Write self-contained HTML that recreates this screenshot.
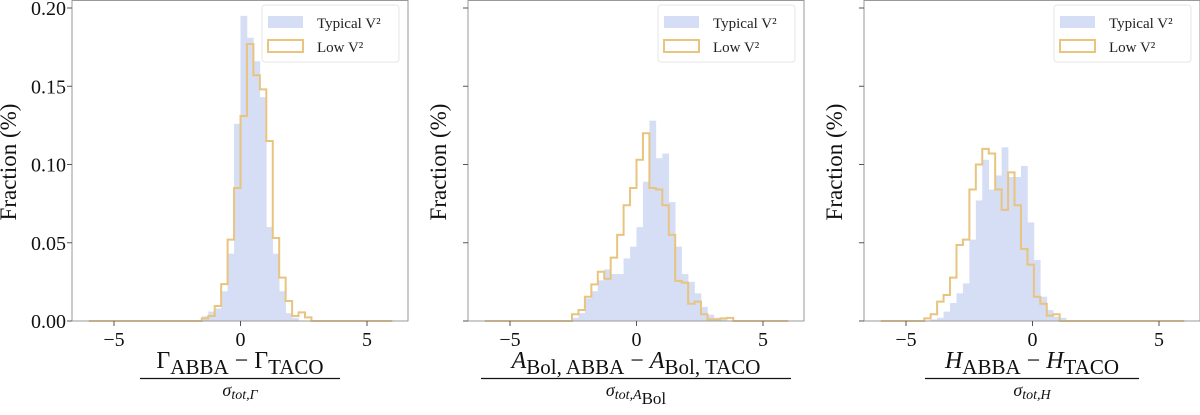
<!DOCTYPE html>
<html><head><meta charset="utf-8"><style>
html,body{margin:0;padding:0;background:#fff;width:1200px;height:415px;overflow:hidden}
svg{display:block;font-family:"Liberation Serif","DejaVu Serif",serif}
</style></head><body>
<svg id="chart" width="1200" height="415" viewBox="0 0 1200 415"></svg>
<script>
// ---- data ----
const binWidth = 0.255;
const p1Start = -1.53;
const p1Low = [0.0017,0.0032,0.0096,0.0236,0.052,0.085,0.131,0.177,0.157,0.148,0.115,0.053,0.0277,0.0128,0.0032,0.0055,0.0023];
const p1Typ = [0.003,0.006,0.008,0.019,0.043,0.126,0.195,0.181,0.166,0.143,0.060,0.043,0.019,0.005,0.002,0,0];
const p2Start = -2.55;
const p2Low = [0.0043,0.007,0.0155,0.0234,0.0315,0.027,0.0405,0.055,0.074,0.085,0.103,0.120,0.085,0.084,0.074,0.055,0.0256,0.0245,0.011,0.0124,0.0043,0.001,0.001,0.0017,0.002];
const p2Typ = [0.002,0.005,0.0145,0.019,0.026,0.033,0.030,0.030,0.040,0.0475,0.060,0.089,0.128,0.104,0.107,0.076,0.0475,0.030,0.025,0.0177,0.009,0.004,0.002,0.001,0];
const p3Start = -4.28;
const p3Low = [0.0017,0.0043,0.0124,0.0166,0.0277,0.0486,0.052,0.084,0.100,0.110,0.107,0.084,0.071,0.095,0.074,0.046,0.036,0.0155,0.011,0.0034,0.0043,0,0];
const p3Typ = [0,0.001,0.002,0.006,0.0115,0.0177,0.024,0.052,0.077,0.103,0.084,0.093,0.111,0.092,0.092,0.099,0.063,0.039,0.0155,0.007,0.0028,0.002,0];
const yTicks = [0.00,0.05,0.10,0.15,0.20];
const yTickLabels = ["0.00","0.05","0.10","0.15","0.20"];
const xTicks = [-5,0,5];
const xTickLabels = ["\u22125","0","5"];

const NS="http://www.w3.org/2000/svg";
const svg=document.getElementById('chart');
function mk(tag,attrs,parent,text){const e=document.createElementNS(NS,tag);for(const k in attrs)e.setAttribute(k,attrs[k]);if(text!==undefined)e.textContent=text;(parent||svg).appendChild(e);return e;}

const lefts=[72,468,864];
const W=336, TOP=0, BOT=321, ZERO_OFF=168.5, XS=25.3, YS=1565;
const panels=[
 {start:p1Start,low:p1Low,typ:p1Typ},
 {start:p2Start,low:p2Low,typ:p2Typ},
 {start:p3Start,low:p3Low,typ:p3Typ}
];

panels.forEach((p,i)=>{
  const L=lefts[i];
  const xs=v=>L+ZERO_OFF+v*XS;
  const ys=v=>BOT-v*YS;
  const g=mk('g',{},svg);
  
  
  p.typ.forEach((v,k)=>{
    if(v<=0)return;
    const x0=xs(p.start+k*binWidth), x1=xs(p.start+(k+1)*binWidth);
    const r=mk('rect',{x:x0,y:ys(v),width:x1-x0+0.3,height:BOT-ys(v),fill:'#d5def5'},g);
    
    
  });
  let d='M'+xs(-6)+','+BOT+' L'+xs(p.start)+','+BOT;
  p.low.forEach((v,k)=>{
    const x0=xs(p.start+k*binWidth), x1=xs(p.start+(k+1)*binWidth);
    d+=' L'+x0+','+ys(v)+' L'+x1+','+ys(v);
  });
  d+=' L'+xs(p.start+p.low.length*binWidth)+','+BOT+' L'+xs(6)+','+BOT;
  const st=mk('path',{d:d,fill:'none',stroke:'#e8c47f','stroke-width':2},g);
  
  
  const fr=mk('rect',{x:L,y:TOP+0.5,width:W,height:BOT-TOP-0.5,fill:'none',stroke:'#999','stroke-width':1},g);
  
  
  yTicks.forEach((t,k)=>{
    mk('line',{x1:L-5,x2:L,y1:ys(t),y2:ys(t),stroke:'#555','stroke-width':1},g);
    if(i===0){
      const tl=mk('text',{x:L-6,y:ys(t)+7,'text-anchor':'end','font-size':20,fill:'#111'},g,yTickLabels[k]);
      
      
    }
  });
  xTicks.forEach((t,k)=>{
    mk('line',{x1:xs(t),x2:xs(t),y1:BOT,y2:BOT+5,stroke:'#555','stroke-width':1},g);
    const tl=mk('text',{x:xs(t),y:BOT+25,'text-anchor':'middle','font-size':20,fill:'#111'},g,xTickLabels[k]);
    
    
  });
  const yx = i===0 ? 16 : L-22;
  const yt=mk('text',{x:yx,y:162,'text-anchor':'middle','font-size':23,fill:'#111',transform:'rotate(-90 '+yx+' 162)'},g,'Fraction (%)');
  
  
  const lg=mk('g',{},g);
  
  
  mk('rect',{x:L+190,y:5,width:137,height:57,rx:3,fill:'#fff','fill-opacity':0.85,stroke:'#e6e6e6'},lg);
  mk('rect',{x:L+196,y:16,width:35,height:12,fill:'#d5def5'},lg);
  mk('rect',{x:L+196,y:40,width:35,height:12,fill:'none',stroke:'#e8c47f','stroke-width':2},lg);
  const t1=mk('text',{x:L+245,y:28,'font-size':15,fill:'#222'},lg,'Typical V\u00b2');
  
  
  const t2=mk('text',{x:L+245,y:52,'font-size':15,fill:'#222'},lg,'Low V\u00b2');
  
  
});

function frac(cx,numParts,denParts,lineHalf,name){
  const g=mk('g',{},svg);
  
  
  const n=mk('text',{x:cx,y:368,'text-anchor':'middle','font-size':24,fill:'#111'},g);
  numParts.forEach(pt=>{mk('tspan',pt.a||{},n,pt.t);});
  mk('line',{x1:cx-lineHalf,x2:cx+lineHalf,y1:378.5,y2:378.5,stroke:'#111','stroke-width':1.2},g);
  const dn=mk('text',{x:cx,y:396,'text-anchor':'middle','font-size':18,fill:'#111'},g);
  denParts.forEach(pt=>{mk('tspan',pt.a||{},dn,pt.t);});
}
const sub={'font-size':21,dy:6}, up={dy:-6};
frac(240,[{t:'Γ'},{t:'ABBA',a:sub},{t:' − Γ',a:up},{t:'TACO',a:sub}],
  [{t:'σ',a:{'font-style':'italic'}},{t:'tot,Γ',a:{'font-style':'italic','font-size':14,dy:3}}],100,'x-axis-title-1');
frac(636,[{t:'A',a:{'font-style':'italic'}},{t:'Bol, ABBA',a:sub},{t:' − ',a:up},{t:'A',a:{'font-style':'italic'}},{t:'Bol, TACO',a:sub}],
  [{t:'σ',a:{'font-style':'italic'}},{t:'tot,A',a:{'font-style':'italic','font-size':14,dy:3}},{t:'Bol',a:{'font-size':17,dy:5}}],155,'x-axis-title-2');
frac(1032,[{t:'H',a:{'font-style':'italic'}},{t:'ABBA',a:sub},{t:' − ',a:up},{t:'H',a:{'font-style':'italic'}},{t:'TACO',a:sub}],
  [{t:'σ',a:{'font-style':'italic'}},{t:'tot,H',a:{'font-style':'italic','font-size':14,dy:3}}],107,'x-axis-title-3');
</script>
</body></html>
